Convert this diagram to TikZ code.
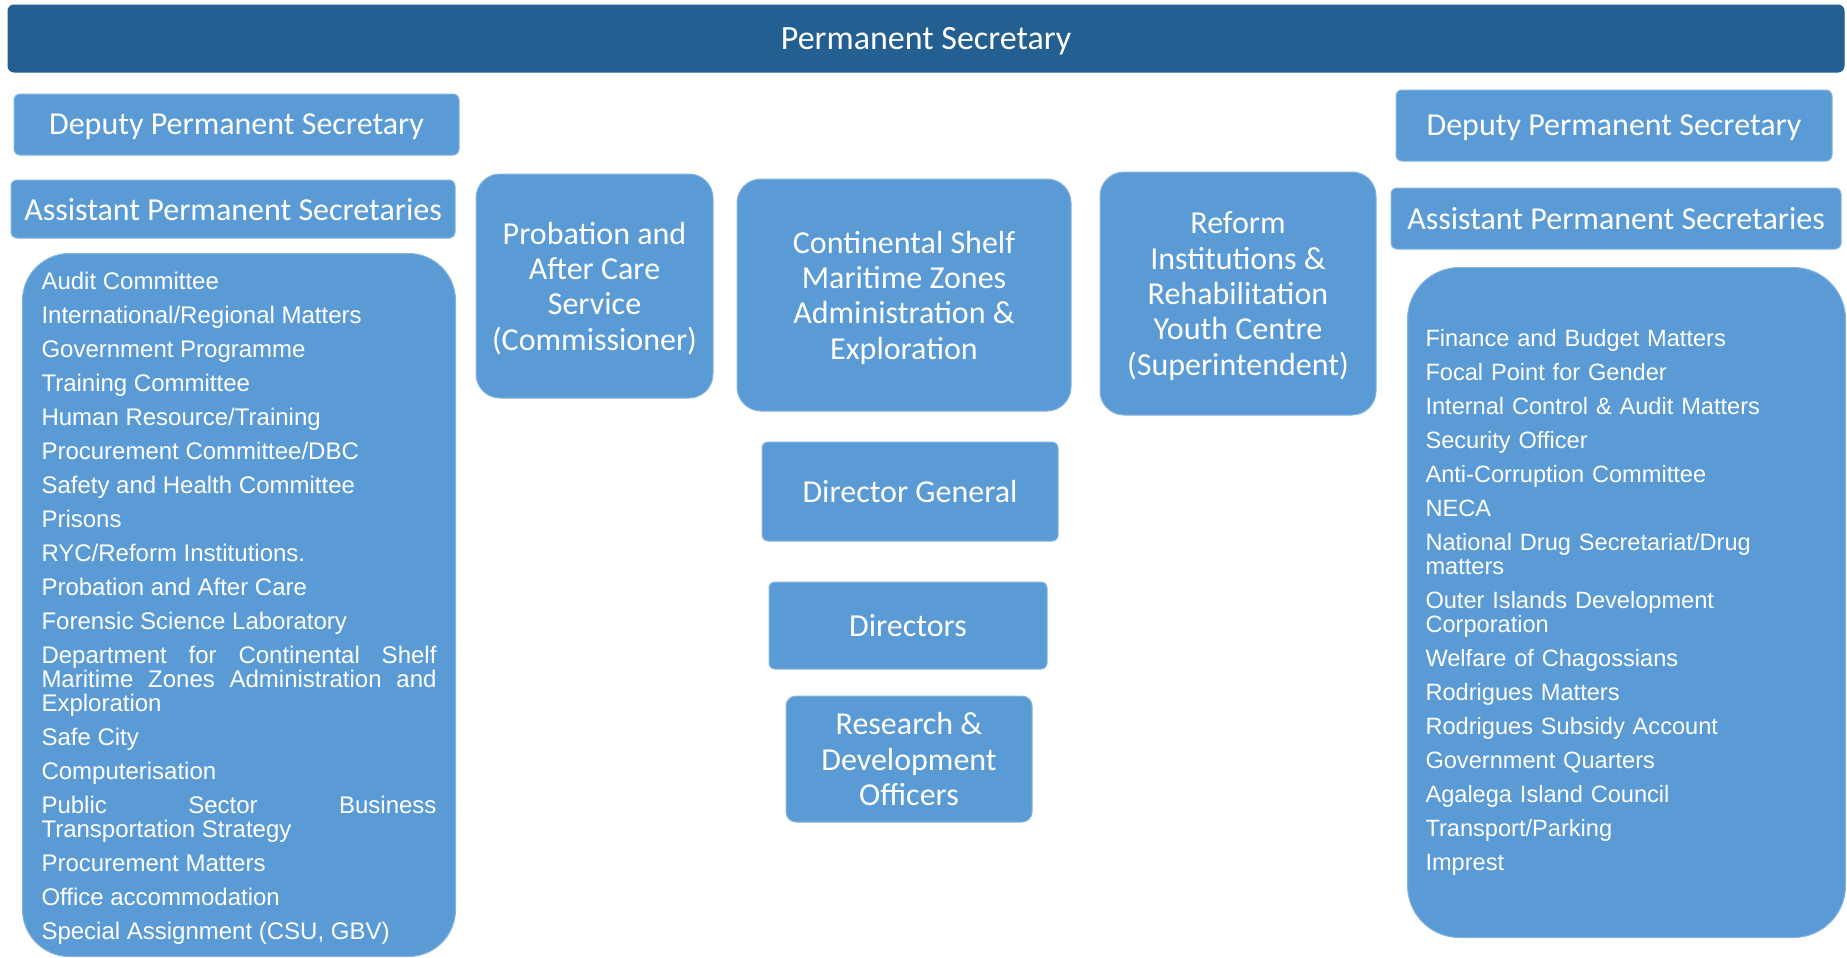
\documentclass[tikz,border=0pt]{standalone}
\usepackage{fontspec}
\newfontfamily\boxfont{Carlito}
\newfontfamily\listfont{Liberation Sans}
\definecolor{psDark}{RGB}{35,95,145}
\definecolor{unitBlue}{RGB}{91,155,213}

\begin{document}
\begin{tikzpicture}[x=0.5pt,y=-0.5pt]
	% --- marco (px del original) ---
	\useasboundingbox (0,0) rectangle (1847,958);
	
	% --- parámetros ---
	\newcommand{\TitleSize}{\fontsize{16}{17.7}\selectfont}
	\newcommand{\ListSetup}[1]{\listfont\fontsize{#1}{12}\selectfont
		\setlength{\parskip}{5pt}\parindent=0pt\hyphenpenalty=10000
		\hbadness=10000\lineskiplimit=-5pt}
	
	% --- estilos ---
	\tikzset{
		unitbox/.style = {fill=unitBlue, draw=unitBlue!75!white, line width=0.5pt,
			text=white, align=center, inner sep=0pt, font=\boxfont\TitleSize},
		barbox/.style  = {unitbox, fill=psDark, draw=psDark, rounded corners=3pt,
			text depth=0pt, font=\boxfont\fontsize{17}{20}\selectfont},
		flatbox/.style = {unitbox, rounded corners=3pt, text depth=0pt},
		roundbox/.style = {unitbox, rounded corners=12pt, text depth=0pt},
		listbox/.style = {unitbox, anchor=north west, align=justify},
	}
	
	% --- cabecera ---
	\node[barbox, minimum width=918pt, minimum height=33.5pt] (permSec) at (926,38.5) {Permanent Secretary};
	
	% --- columna izquierda ---
	\node[flatbox, minimum width=222.5pt, minimum height=30.5pt] (depL) at (236.5,124.5) {Deputy Permanent Secretary};
	\node[flatbox, minimum width=222pt, minimum height=29pt] (asstL) at (233,209) {Assistant Permanent Secretaries};
	\node[listbox, font=\ListSetup{12}, rounded corners=23.5pt, text width=197.5pt, inner xsep=9.5pt, minimum height=351.5pt] (dutiesL) at (22,253) {%
		Audit Committee\par
		International/Regional Matters\par
		Government Programme\par
		Training Committee\par
		Human Resource/Training\par
		Procurement Committee/DBC\par
		Safety and Health Committee\par
		Prisons\par
		RYC/Reform Institutions.\par
		Probation and After Care\par
		Forensic Science Laboratory\par
		Department for Continental Shelf\linebreak Maritime Zones Administration and\linebreak Exploration\par
		Safe City\par
		Computerisation\par
		Public Sector Business\linebreak Transportation Strategy\par
		Procurement Matters\par
		Office accommodation\par
		Special Assignment (CSU, GBV)\par\vspace{-3.5pt}};
	
	% --- centro ---
	\node[roundbox, minimum width=118.5pt, minimum height=112pt] (probation) at (594.5,286) {Probation and\\After Care\\Service\\(Commissioner)};
	\node[roundbox, minimum width=167pt, minimum height=116pt] (shelf) at (904,295) {Continental Shelf\\Maritime Zones\\Administration \&\\Exploration};
	\node[roundbox, minimum width=138pt, minimum height=121.5pt] (reform) at (1238,293.5) {Reform\\Institutions \&\\Rehabilitation\\Youth Centre\\(Superintendent)};
	\node[flatbox, minimum width=148pt, minimum height=49.5pt] (dirGen) at (910,491.5) {Director General};
	\node[flatbox, minimum width=139pt, minimum height=43.5pt] (dirs) at (908,625.5) {Directors};
	\node[flatbox, rounded corners=5pt, minimum width=123pt, minimum height=63pt] (resDev) at (909,759) {Research \&\\Development\\Officers};
	
	% --- columna derecha ---
	\node[flatbox, minimum width=218pt, minimum height=35.5pt] (depR) at (1614,125.5) {Deputy Permanent Secretary};
	\node[flatbox, minimum width=225pt, minimum height=30.5pt] (asstR) at (1616,218.5) {Assistant Permanent Secretaries};
	\node[listbox, font=\ListSetup{11.8}, align=left, rounded corners=26pt, text width=201pt, inner xsep=9pt, minimum height=335pt] (dutiesR) at (1407,267) {%
		Finance and Budget Matters\par
		Focal Point for Gender\par
		Internal Control \& Audit Matters\par
		Security Officer\par
		Anti-Corruption Committee\par
		NECA\par
		National Drug Secretariat/Drug matters\par
		Outer Islands Development Corporation\par
		Welfare of Chagossians\par
		Rodrigues Matters\par
		Rodrigues Subsidy Account\par
		Government Quarters\par
		Agalega Island Council\par
		Transport/Parking\par
		Imprest};
	
\end{tikzpicture}
\end{document}
